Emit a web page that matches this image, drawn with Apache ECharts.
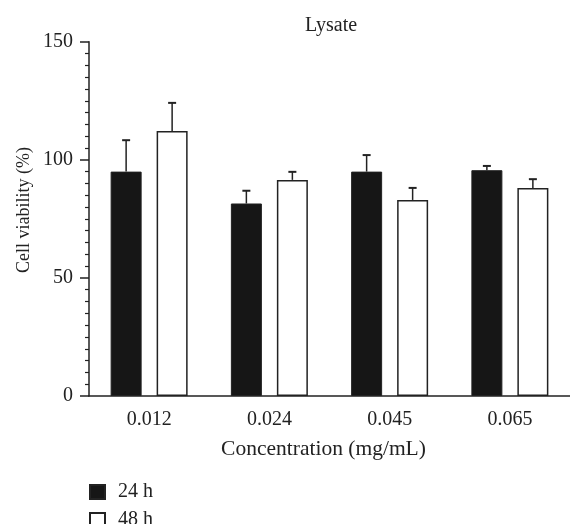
<!DOCTYPE html>
<html><head><meta charset="utf-8">
<script src="https://cdn.jsdelivr.net/npm/echarts@6/dist/echarts.min.js"></script>
<style>html,body{margin:0;padding:0;background:#fff}#c{width:570px;height:524px}</style>
</head><body><div id="c"></div>
<script>
const categories = ['0.012', '0.024', '0.045', '0.065'];
const seriesNames = ['24 h', '48 h'];
const viability24 = [95, 81.5, 95, 95.6];
const error24 = [13.3, 5.4, 7, 1.8];
const viability48 = [112.2, 91.5, 83, 88.1];
const error48 = [11.9, 3.4, 5.1, 3.7];
const yTicks = [0, 50, 100, 150];

const FONT = '"Liberation Serif", "DejaVu Serif", serif';
const INK = '#222';
const BAR_W = 31, BAR_GAP = 15;

function errSeries(vals, errs, side) {
  return {
    type: 'custom',
    silent: true,
    z: 1,
    data: vals.map((v, i) => [i, v, v + errs[i]]),
    renderItem: function (params, api) {
      const base = api.coord([api.value(0), api.value(1)]);
      const top = api.coord([api.value(0), api.value(2)]);
      const x = base[0] + side * (BAR_W + BAR_GAP) / 2;
      return {
        type: 'group',
        children: [
          {type: 'line', shape: {x1: x, y1: base[1], x2: x, y2: top[1]}, style: {stroke: INK, lineWidth: 1.5}},
          {type: 'line', shape: {x1: x - 4, y1: top[1], x2: x + 4, y2: top[1]}, style: {stroke: INK, lineWidth: 2}}
        ]
      };
    }
  };
}

function legendItem(name, top) {
  return {
    orient: 'vertical', left: 89, top: top, padding: 0,
    itemWidth: 15, itemHeight: 14,
    data: [{name: name, icon: 'rect'}],
    textStyle: {fontFamily: FONT, fontSize: 20, lineHeight: 14, color: INK, padding: [0, 0, 0, 8]}
  };
}

const chart = echarts.init(document.getElementById('c'), null, {renderer: 'canvas'});
chart.setOption({
  animation: false,
  backgroundColor: '#fff',
  textStyle: {fontFamily: FONT},
  title: {
    text: 'Lysate', left: 326, top: 11, textAlign: 'center',
    textStyle: {fontFamily: FONT, fontSize: 20, fontWeight: 'normal', color: INK}
  },
  legend: [legendItem(seriesNames[0], 482), legendItem(seriesNames[1], 510)],
  graphic: [{
    type: 'text', x: 24, y: 210, rotation: Math.PI / 2,
    style: {text: 'Cell viability (%)', font: '18px ' + FONT, fill: INK, align: 'center', verticalAlign: 'middle'}
  }],
  grid: {left: 89, top: 41.7, width: 484, bottom: 128},
  xAxis: {
    type: 'category', data: categories,
    name: 'Concentration (mg/mL)', nameLocation: 'middle', nameGap: 42,
    nameTextStyle: {fontFamily: FONT, fontSize: 21.5, color: INK, padding: [0, 12, 0, 0]},
    axisLine: {lineStyle: {color: INK, width: 1.5}},
    axisTick: {alignWithLabel: true, length: 7, lineStyle: {color: INK, width: 1.5}},
    axisLabel: {fontFamily: FONT, fontSize: 20, color: INK, margin: 14}
  },
  yAxis: {
    type: 'value', min: yTicks[0], max: yTicks[yTicks.length - 1], interval: 50,
    splitLine: {show: false},
    axisLine: {show: true, lineStyle: {color: INK, width: 1.5}},
    axisTick: {show: true, length: 9, lineStyle: {color: INK, width: 1.5}},
    minorTick: {show: true, splitNumber: 10, length: 4, lineStyle: {color: INK, width: 1.2}},
    axisLabel: {fontFamily: FONT, fontSize: 20, color: INK, margin: 16}
  },
  series: [
    {
      name: seriesNames[0], type: 'bar', data: viability24, barWidth: BAR_W,
      barGap: (BAR_GAP / BAR_W * 100) + '%',
      itemStyle: {color: '#161616', borderColor: INK, borderWidth: 1}
    },
    {
      name: seriesNames[1], type: 'bar', data: viability48, barWidth: BAR_W,
      itemStyle: {color: '#fff', borderColor: INK, borderWidth: 1.5}
    },
    errSeries(viability24, error24, -1),
    errSeries(viability48, error48, 1)
  ]
});
</script></body></html>
